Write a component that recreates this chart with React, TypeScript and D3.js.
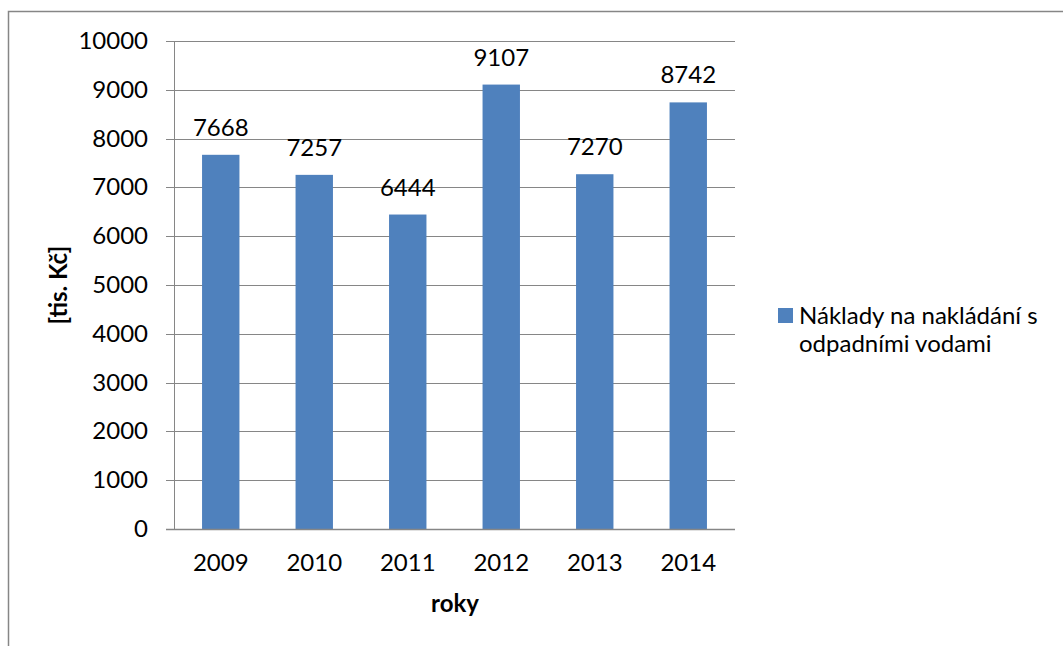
import React from "react";
import * as d3 from "d3";

const years = ["2009", "2010", "2011", "2012", "2013", "2014"];
const values = [7668, 7257, 6444, 9107, 7270, 8742];
const yTicks = [0, 1000, 2000, 3000, 4000, 5000, 6000, 7000, 8000, 9000, 10000];
const seriesName = ["Náklady na nakládání s", "odpadními vodami"];
const yTitle = "[tis. Kč]";
const xTitle = "roky";

const W = 1063;
const H = 646;
const plot = { left: 174, right: 735, top: 41, bottom: 529 };
const FONT = "Lato, 'Open Sans', sans-serif";
const FS = 24;
const BAR = "#4F81BD";
const GRID = "#868686";

export default function App() {
  const x = d3.scaleBand<string>().domain(years).range([plot.left, plot.right]).paddingInner(0.6).paddingOuter(0.3);
  const y = d3.scaleLinear().domain([0, 10000]).range([plot.bottom, plot.top]);
  const band = d3.scaleBand<string>().domain(years).range([plot.left, plot.right]);

  return (
    <div style={{ position: "fixed", left: 0, top: 0, width: W, height: H, background: "#fff" }}>
      <svg width={W} height={H} style={{ display: "block" }} fontFamily={FONT}>
        <rect x={8.5} y={11.5} width={1200} height={800} fill="none" stroke={GRID} strokeWidth={1.5} />
        {yTicks.map((t) => (
          <g key={t}>
            {t > 0 && (
              <line x1={plot.left} x2={plot.right} y1={Math.round(y(t)) + 0.5} y2={Math.round(y(t)) + 0.5} stroke={GRID} strokeWidth={1} />
            )}
            <line x1={plot.left - 8} x2={plot.left} y1={Math.round(y(t)) + 0.5} y2={Math.round(y(t)) + 0.5} stroke={GRID} strokeWidth={1} />
            <text x={148} y={y(t) + 8} textAnchor="end" fontSize={FS} fill="#000">
              {t}
            </text>
          </g>
        ))}
        {years.map((yr, i) => (
          <g key={yr}>
            <rect x={x(yr)} y={y(values[i])} width={x.bandwidth()} height={plot.bottom - y(values[i])} fill={BAR} />
            <text x={(x(yr) as number) + x.bandwidth() / 2} y={y(values[i]) - 19} textAnchor="middle" fontSize={FS} fill="#000">
              {values[i]}
            </text>
            <text x={(band(yr) as number) + band.bandwidth() / 2} y={571} textAnchor="middle" fontSize={FS} fill="#000">
              {yr}
            </text>
          </g>
        ))}
        <line x1={plot.left + 0.5} x2={plot.left + 0.5} y1={plot.top} y2={plot.bottom} stroke={GRID} strokeWidth={1} />
        <line x1={plot.left - 8} x2={plot.right} y1={plot.bottom + 0.5} y2={plot.bottom + 0.5} stroke={GRID} strokeWidth={1.5} />
        <text x={455} y={612} textAnchor="middle" fontSize={FS} fontWeight="bold" fill="#000">
          {xTitle}
        </text>
        <text transform={`translate(67,${(plot.top + plot.bottom) / 2}) rotate(-90)`} textAnchor="middle" fontSize={FS} fontWeight="bold" fill="#000">
          {yTitle}
        </text>
        <rect x={778} y={308} width={15} height={15} fill={BAR} />
        {seriesName.map((s, i) => (
          <text key={s} x={799} y={324 + i * 27.5} fontSize={FS} fill="#000">
            {s}
          </text>
        ))}
      </svg>
    </div>
  );
}
